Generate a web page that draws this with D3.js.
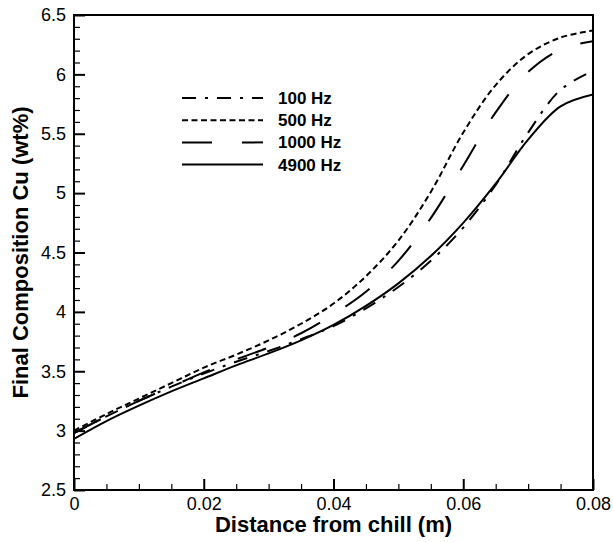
<!DOCTYPE html>
<html>
<head>
<meta charset="utf-8">
<script src="https://cdn.jsdelivr.net/npm/d3@7/dist/d3.min.js"></script>
<style>
body { margin: 0; background: #fff; }
text { font-family: "Liberation Sans", Arial, sans-serif; fill: #000; }
.tick line { stroke: #000; stroke-width: 1.2px; }
</style>
</head>
<body>
<div id="graph"></div>
<script>
// distance from chill (m)
distance = [0, 0.005, 0.01, 0.015, 0.02, 0.025, 0.03, 0.035, 0.04, 0.045, 0.05, 0.055, 0.06, 0.065, 0.07, 0.075, 0.08];

// final composition Cu (wt%) per frequency
cu100  = [2.98, 3.12, 3.25, 3.37, 3.48, 3.58, 3.67, 3.77, 3.88, 4.03, 4.21, 4.43, 4.71, 5.07, 5.51, 5.87, 6.03];
cu500  = [3.00, 3.14, 3.27, 3.40, 3.53, 3.64, 3.76, 3.90, 4.07, 4.30, 4.60, 5.01, 5.51, 5.91, 6.17, 6.31, 6.37];
cu1000 = [2.98, 3.12, 3.25, 3.37, 3.49, 3.60, 3.70, 3.82, 3.98, 4.17, 4.43, 4.79, 5.23, 5.68, 6.02, 6.21, 6.28];
cu4900 = [2.93, 3.08, 3.21, 3.33, 3.44, 3.55, 3.65, 3.76, 3.89, 4.05, 4.24, 4.47, 4.75, 5.08, 5.45, 5.73, 5.83];

seriesLabels = ["100 Hz", "500 Hz", "1000 Hz", "4900 Hz"];
seriesValues = [cu100, cu500, cu1000, cu4900];

xTicks = [0, 0.02, 0.04, 0.06, 0.08];
xTickLabels = ["0", "0.02", "0.04", "0.06", "0.08"];
yTicks = [2.5, 3, 3.5, 4, 4.5, 5, 5.5, 6, 6.5];
yTickLabels = ["2.5", "3", "3.5", "4", "4.5", "5", "5.5", "6", "6.5"];

// line styles, same order as the series
dashes = ["14,9,3,9", "6,3.5", "30,30", null];

let W = 613, H = 542;
let margin = { top: 15, right: 20, bottom: 52, left: 74 },
	width = W - margin.left - margin.right,
	height = H - margin.top - margin.bottom;

let x = d3.scaleLinear().domain([0, 0.08]).range([0, width]);
let y = d3.scaleLinear().domain([2.5, 6.5]).range([height, 0]);

let svg = d3.select("#graph").append("svg")
	.attr("width", W).attr("height", H)
	.append("g").attr("transform", "translate(" + margin.left + "," + margin.top + ")");

// minor ticks first
let xMinor = d3.range(0, 0.0801, 0.005).filter((d, i) => i % 4 != 0);
let yMinor = d3.range(2.5, 6.501, 0.1).filter((d, i) => i % 5 != 0);

svg.append("g").attr("transform", "translate(0," + height + ")")
	.call(d3.axisBottom(x).tickValues(xMinor).tickSizeInner(-6).tickSizeOuter(0).tickFormat(""))
	.call(g => g.select(".domain").remove());
svg.append("g")
	.call(d3.axisLeft(y).tickValues(yMinor).tickSizeInner(-6).tickSizeOuter(0).tickFormat(""))
	.call(g => g.select(".domain").remove());

// major ticks
let xAxis = svg.append("g").attr("transform", "translate(0," + height + ")")
	.call(d3.axisBottom(x).tickValues(xTicks).tickSizeInner(-11).tickSizeOuter(0).tickPadding(7)
		.tickFormat((d, i) => xTickLabels[i]));
xAxis.select(".domain").remove();
xAxis.selectAll(".tick line").style("stroke-width", "2px");
xAxis.selectAll("text").style("font-size", "18px");

let yAxis = svg.append("g")
	.call(d3.axisLeft(y).tickValues(yTicks).tickSizeInner(-11).tickSizeOuter(0).tickPadding(8)
		.tickFormat((d, i) => yTickLabels[i]));
yAxis.select(".domain").remove();
yAxis.selectAll(".tick line").style("stroke-width", "2px");
yAxis.selectAll("text").style("font-size", "18px");

// frame
svg.append("rect").attr("width", width).attr("height", height)
	.attr("fill", "none").attr("stroke", "#000").attr("stroke-width", 2);

// curves
let line = d3.line().curve(d3.curveCatmullRom.alpha(0.5))
	.x((d, i) => x(distance[i]))
	.y(d => y(d));

svg.append("defs").append("clipPath").attr("id", "clip")
	.append("rect").attr("width", width).attr("height", height);

svg.append("g").attr("clip-path", "url(#clip)")
	.selectAll("path").data(seriesValues).enter().append("path")
	.attr("d", line)
	.attr("fill", "none")
	.attr("stroke", "#000")
	.attr("stroke-width", 2)
	.attr("stroke-dasharray", (d, i) => dashes[i]);

// legend
let legend = svg.append("g").attr("transform", "translate(108,83)");
let rows = legend.selectAll("g").data(seriesLabels).enter().append("g")
	.attr("transform", (d, i) => "translate(0," + (i * 22.2) + ")");
rows.append("line")
	.attr("x1", 0).attr("x2", 81)
	.attr("stroke", "#000").attr("stroke-width", 2)
	.attr("stroke-dasharray", (d, i) => dashes[i]);
rows.append("text")
	.attr("x", 96).attr("y", 6)
	.style("font-size", "17px").style("font-weight", "bold")
	.text(d => d);

// axis titles
svg.append("text")
	.attr("x", width / 2).attr("y", height + 42)
	.attr("text-anchor", "middle")
	.style("font-size", "22px").style("font-weight", "bold")
	.text("Distance from chill (m)");

svg.append("text")
	.attr("transform", "translate(" + (28 - margin.left) + "," + (height / 2) + ") rotate(-90)")
	.attr("text-anchor", "middle")
	.style("font-size", "22px").style("font-weight", "bold")
	.text("Final Composition Cu (wt%)");
</script>
</body>
</html>
